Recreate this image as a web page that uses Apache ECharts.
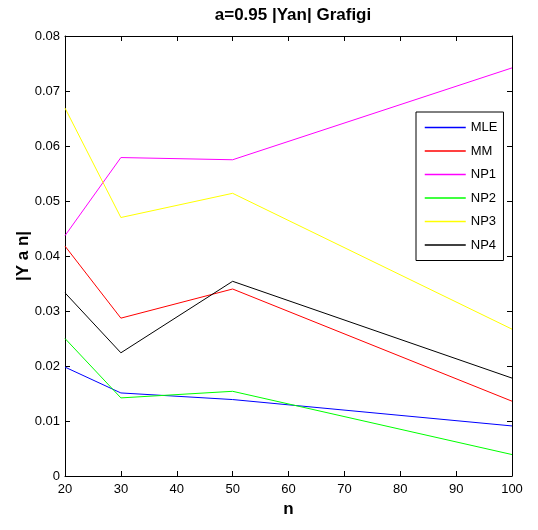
<!DOCTYPE html>
<html>
<head>
<meta charset="utf-8">
<script src="https://cdn.jsdelivr.net/npm/echarts@6/dist/echarts.min.js"></script>
<style>
html,body{margin:0;padding:0;background:#fff;}
#chart{width:538px;height:530px;}
</style>
</head>
<body>
<div id="chart"></div>
<script>
const nValues = [20, 30, 50, 100];
const seriesNames = ['MLE', 'MM', 'NP1', 'NP2', 'NP3', 'NP4'];
const MLE = [0.0198, 0.0151, 0.0139, 0.0091];
const MM  = [0.0418, 0.0287, 0.0340, 0.0136];
const NP1 = [0.0437, 0.0579, 0.0575, 0.0742];
const NP2 = [0.0250, 0.0142, 0.0154, 0.0039];
const NP3 = [0.0669, 0.0470, 0.0514, 0.0267];
const NP4 = [0.0333, 0.0224, 0.0354, 0.0178];
const seriesValues = [MLE, MM, NP1, NP2, NP3, NP4];
const colors = ['#0000ff', '#ff0000', '#ff00ff', '#00ff00', '#ffff00', '#000000'];

const FONT = '"Liberation Sans", Arial, sans-serif';
const chart = echarts.init(document.getElementById('chart'), null, {renderer: 'canvas'});

const axisCommon = {
  axisLine: {show: true, onZero: false, lineStyle: {color: '#000', width: 1}},
  axisTick: {show: true, inside: true, length: 5, lineStyle: {color: '#000', width: 1}},
  splitLine: {show: false}
};

chart.setOption({
  animation: false,
  backgroundColor: '#fff',
  color: colors,
  title: {
    text: 'a=0.95 |Yan| Grafigi',
    left: 288, top: 2, textAlign: 'center',
    textStyle: {fontFamily: FONT, fontSize: 17, fontWeight: 'bold', color: '#000'}
  },
  grid: {left: 65, right: 26, top: 36, bottom: 54, containLabel: false, outerBoundsMode: 'none'},
  legend: {
    orient: 'vertical',
    left: 416, top: 112,
    padding: [9, 6, 9, 8],
    borderColor: '#000', borderWidth: 1,
    backgroundColor: '#fff',
    itemWidth: 41, itemHeight: 13, itemGap: 10.5,
    itemStyle: {opacity: 0},
    textStyle: {fontFamily: FONT, fontSize: 13, color: '#000', lineHeight: 13},
    data: seriesNames.map((name, i) => ({
      name: name,
      lineStyle: {color: colors[i], width: 1.5, opacity: 1}
    }))
  },
  xAxis: [
    Object.assign({
      type: 'value', min: 20, max: 100, interval: 10, position: 'bottom',
      name: 'n', nameLocation: 'middle', nameGap: 25, nameMoveOverlap: false,
      nameTextStyle: {fontFamily: FONT, fontSize: 17, fontWeight: 'bold', color: '#000'},
      axisLabel: {fontFamily: FONT, fontSize: 13, color: '#000', margin: 7}
    }, axisCommon),
    Object.assign({
      type: 'value', min: 20, max: 100, interval: 10, position: 'top',
      axisLabel: {show: false}
    }, axisCommon)
  ],
  yAxis: [
    Object.assign({
      type: 'value', min: 0, max: 0.08, interval: 0.01, position: 'left',
      name: '|Y a n|', nameLocation: 'middle', nameGap: 33, nameMoveOverlap: false,
      nameTextStyle: {fontFamily: FONT, fontSize: 17, fontWeight: 'bold', color: '#000'},
      axisLabel: {fontFamily: FONT, fontSize: 13, color: '#000', margin: 5,
        formatter: v => (v === 0 ? '0' : v.toFixed(2))}
    }, axisCommon),
    Object.assign({
      type: 'value', min: 0, max: 0.08, interval: 0.01, position: 'right',
      axisLabel: {show: false}
    }, axisCommon)
  ],
  series: seriesNames.map((name, i) => ({
    name: name,
    type: 'line',
    xAxisIndex: 0, yAxisIndex: 0,
    symbol: 'none',
    itemStyle: {color: colors[i]},
    lineStyle: {width: 1, color: colors[i]},
    data: nValues.map((n, j) => [n, seriesValues[i][j]])
  }))
});
</script>
</body>
</html>
